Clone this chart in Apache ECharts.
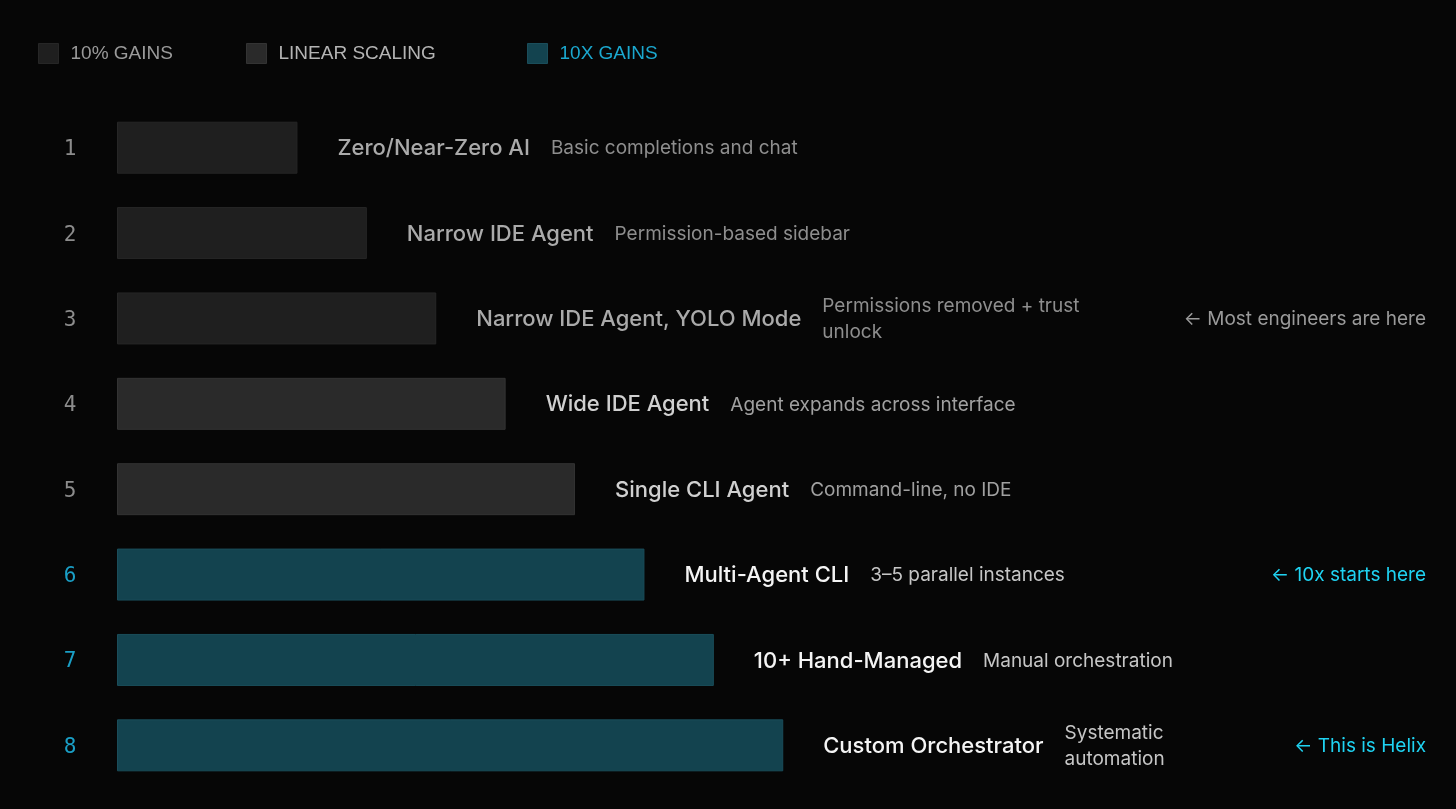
<!DOCTYPE html>
<html>
<head>
<meta charset="utf-8">
<style>
  html, body { margin: 0; padding: 0; background: #060606; }
  #chart { width: 1456px; height: 809px; }
</style>
<script src="https://cdn.jsdelivr.net/npm/echarts@6/dist/echarts.min.js"></script>
</head>
<body>
<div id="chart"></div>
<script>
// ---- data ----
const ranks = ['1', '2', '3', '4', '5', '6', '7', '8'];
const titles = [
  'Zero/Near-Zero AI',
  'Narrow IDE Agent',
  'Narrow IDE Agent, YOLO Mode',
  'Wide IDE Agent',
  'Single CLI Agent',
  'Multi-Agent CLI',
  '10+ Hand-Managed',
  'Custom Orchestrator'
];
const descriptions = [
  'Basic completions and chat',
  'Permission-based sidebar',
  'Permissions removed + trust\nunlock',
  'Agent expands across interface',
  'Command-line, no IDE',
  '3–5 parallel instances',
  'Manual orchestration',
  'Systematic\nautomation'
];
const notes = ['', '', '← Most engineers are here', '', '', '← 10x starts here', '', '← This is Helix'];
const values = [26, 36, 46, 56, 66, 76, 86, 96];
const tierOf = [0, 0, 0, 1, 1, 2, 2, 2];
const tierNames = ['10% GAINS', 'LINEAR SCALING', '10X GAINS'];

// ---- styles ----
const tierFill = ['#1f1f1f', '#2a2a2a', '#13434f'];
const tierBorder = ['#262626', '#333333', '#1a4d5a'];
const tierLegendText = ['#9a9a9a', '#b4b4b4', '#1ba8cf'];
const legendLeft = [38, 246, 527];
const rankColor = ['#8c8c8c', '#8c8c8c', '#1a9fc6'];
const titleColor = ['#aaaaaa', '#d0d0d0', '#f4f4f4'];
const descColor = ['#8e8e8e', '#a0a0a0', '#c6c6c6'];
const noteColor = ['#9a9a9a', '#9a9a9a', '#1fd3f2'];

const FONT = 'Inter, "Noto Sans", sans-serif';
const TITLE_SIZE = 22, DESC_SIZE = 19, NOTE_SIZE = 19;

const measureCtx = document.createElement('canvas').getContext('2d');
function textWidth(str, size, weight) {
  measureCtx.font = weight + ' ' + size + 'px ' + FONT;
  return measureCtx.measureText(str).width;
}

const barSeries = tierNames.map((name, t) => ({
  name: name,
  type: 'bar',
  barWidth: 52,
  barGap: '-100%',
  itemStyle: { color: tierFill[t], borderColor: tierBorder[t], borderWidth: 1 },
  data: values.map((v, i) => tierOf[i] === t ? v : '-'),
  silent: true
}));

const labelSeries = {
  type: 'custom',
  silent: true,
  clip: false,
  data: values.map((v, i) => [v, i]),
  encode: { x: 0, y: 1 },
  renderItem: function (params, api) {
    const i = params.dataIndex;
    const t = tierOf[i];
    const p = api.coord([api.value(0), api.value(1)]);
    const x0 = p[0] + 40;
    const tw = textWidth(titles[i], TITLE_SIZE, 500);
    const children = [
      {
        type: 'text',
        x: x0, y: p[1] + 1,
        style: {
          text: titles[i], fill: titleColor[t],
          font: '500 ' + TITLE_SIZE + 'px ' + FONT,
          verticalAlign: 'middle', align: 'left'
        }
      },
      {
        type: 'text',
        x: x0 + tw + 21, y: p[1] + 1,
        style: {
          text: descriptions[i], fill: descColor[t],
          font: '400 ' + DESC_SIZE + 'px ' + FONT,
          lineHeight: 26,
          verticalAlign: 'middle', align: 'left'
        }
      }
    ];
    if (notes[i]) {
      children.push({
        type: 'text',
        x: api.getWidth() - 30, y: p[1] + 1,
        style: {
          text: notes[i], fill: noteColor[t],
          font: '400 ' + NOTE_SIZE + 'px ' + FONT,
          verticalAlign: 'middle', align: 'right'
        }
      });
    }
    return { type: 'group', children: children };
  }
};

const legends = tierNames.map((n, t) => ({
  left: legendLeft[t], top: 43, padding: 0,
  itemWidth: 20, itemHeight: 20,
  icon: 'rect',
  selectedMode: false,
  textStyle: {
    fontFamily: '"Liberation Sans", sans-serif', fontSize: 19,
    padding: [0, 0, 0, 7], color: tierLegendText[t]
  },
  data: [{
    name: n,
    itemStyle: { color: tierFill[t], borderColor: tierBorder[t], borderWidth: 1 }
  }]
}));

const chart = echarts.init(document.getElementById('chart'));
chart.setOption({
  backgroundColor: '#060606',
  animation: false,
  legend: legends,
  grid: { left: 117, width: 694, top: 105, bottom: 21, containLabel: false },
  xAxis: {
    type: 'value', min: 0, max: 100,
    show: false
  },
  yAxis: {
    type: 'category',
    data: ranks,
    inverse: true,
    axisLine: { show: false },
    axisTick: { show: false },
    splitLine: { show: false },
    axisLabel: {
      margin: 47,
      align: 'center',
      fontFamily: '"DejaVu Sans Mono", monospace',
      fontSize: 21,
      formatter: function (v, idx) { return '{t' + tierOf[idx] + '|' + v + '}'; },
      rich: {
        t0: { color: rankColor[0], fontFamily: '"DejaVu Sans Mono", monospace', fontSize: 21, padding: [4, 0, 0, 0] },
        t1: { color: rankColor[1], fontFamily: '"DejaVu Sans Mono", monospace', fontSize: 21, padding: [4, 0, 0, 0] },
        t2: { color: rankColor[2], fontFamily: '"DejaVu Sans Mono", monospace', fontSize: 21, padding: [4, 0, 0, 0] }
      }
    }
  },
  series: barSeries.concat([labelSeries])
});
</script>
</body>
</html>
